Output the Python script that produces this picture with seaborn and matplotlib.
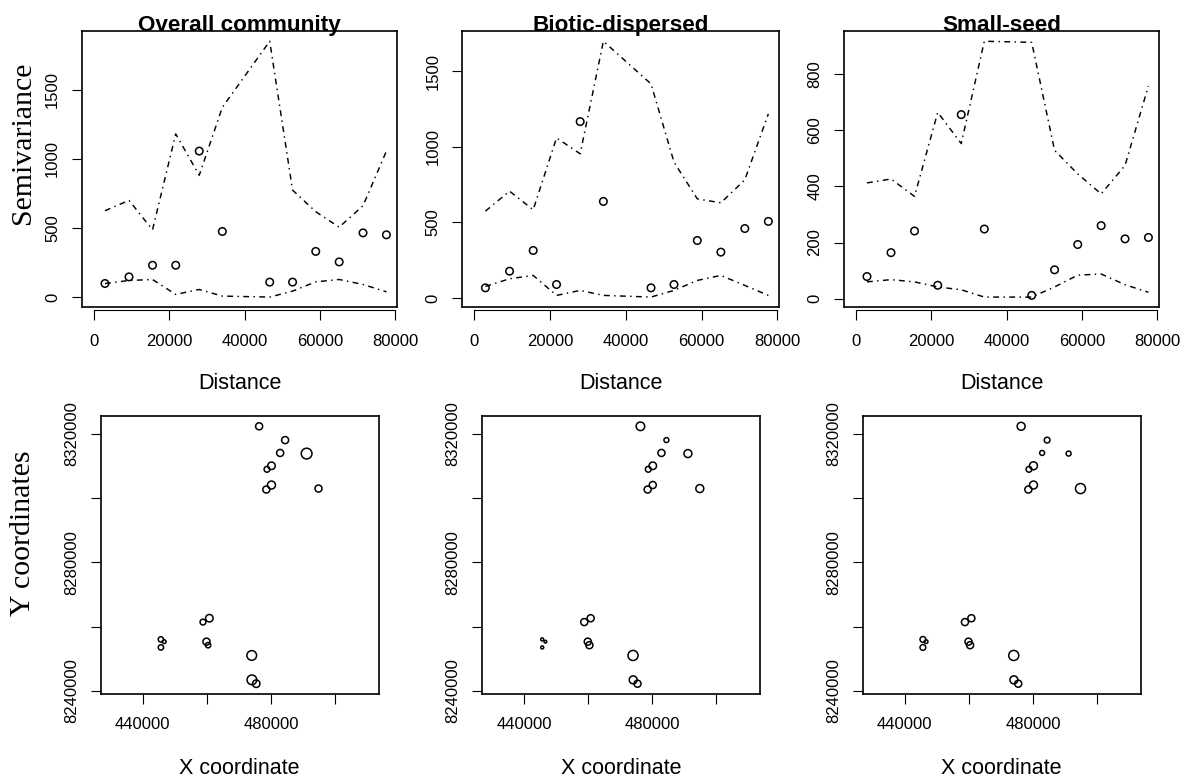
import numpy as np
import pandas as pd
import matplotlib
matplotlib.use("Agg")
import matplotlib.pyplot as plt
from matplotlib.lines import Line2D
import seaborn as sns

sns.set_theme(style="ticks", rc={
    "axes.edgecolor": "black",
    "axes.linewidth": 1.2,
    "xtick.color": "black",
    "ytick.color": "black",
    "text.color": "black",
    "axes.labelcolor": "black",
    "xtick.major.size": 7.2,
    "ytick.major.size": 7.2,
    "xtick.major.width": 0.8,
    "ytick.major.width": 0.8,
})
plt.rcParams["font.family"] = ["Liberation Sans", "DejaVu Sans"]

# ---- empirical semivariograms with Monte-Carlo envelopes ----
distance = [2900, 9280, 15520, 21680, 27920, 34050, 46630, 52700, 58850, 65070, 71400, 77610]

overall_gamma = [98, 146, 230, 230, 1055, 474, 108, 108, 330, 254, 464, 450]
overall_upper = [624, 699, 486, 1179, 880, 1371, 1849, 773, 617, 505, 660, 1055]
overall_lower = [98, 120, 127, 19, 55, 7, 0, 43, 110, 127, 91, 38]

biotic_gamma = [68, 178, 315, 90, 1167, 639, 68, 90, 381, 304, 460, 507]
biotic_upper = [575, 707, 584, 1059, 954, 1698, 1416, 899, 656, 630, 782, 1218]
biotic_lower = [77, 128, 150, 18, 51, 18, 7, 51, 117, 150, 84, 18]

small_gamma = [79, 164, 241, 48, 655, 248, 12, 103, 193, 260, 213, 218]
small_upper = [412, 426, 364, 663, 552, 916, 912, 528, 444, 373, 474, 757]
small_lower = [60, 68, 60, 42, 32, 6, 6, 42, 84, 88, 50, 23]

titles = ["Overall community", "Biotic-dispersed", "Small-seed"]
dist_ticks = [0, 20000, 40000, 60000, 80000]
gamma_ticks = [[0, 500, 1000, 1500], [0, 500, 1000, 1500], [0, 200, 400, 600, 800]]

# ---- sampling sites and bubble magnitudes (cex) ----
site_x = [476300, 484400, 482850, 491100, 480150, 478750, 480150, 478550, 494800,
          460800, 458800, 445700, 445700, 446700, 459900, 460400, 474000, 474050, 475400]
site_y = [8322400, 8318100, 8314100, 8313900, 8310100, 8309000, 8304100, 8302700, 8303000,
          8262600, 8261400, 8256000, 8253500, 8255300, 8255300, 8254200, 8251000, 8243400, 8242200]

overall_cex = [0.94, 0.94, 0.94, 1.43, 1.0, 0.77, 1.06, 0.94, 0.94,
               1.0, 0.77, 0.71, 0.71, 0.51, 0.94, 0.71, 1.29, 1.29, 1.0]
biotic_cex = [1.14, 0.66, 0.94, 1.06, 1.0, 0.77, 0.94, 0.94, 1.06,
              0.94, 0.94, 0.40, 0.40, 0.36, 0.94, 0.94, 1.34, 1.06, 0.94]
small_cex = [1.06, 0.77, 0.66, 0.66, 1.06, 0.77, 1.06, 0.94, 1.34,
             0.94, 0.94, 0.77, 0.77, 0.49, 0.94, 0.94, 1.34, 1.06, 0.94]

coord_xticks = [440000, 460000, 480000, 500000]
coord_xlabels = ["440000", "", "480000", ""]
coord_yticks = [8240000, 8260000, 8280000, 8300000, 8320000]
coord_ylabels = ["8240000", "", "8280000", "", "8320000"]

W, H = 1191, 782
fig = plt.figure(figsize=(W / 100, H / 100), dpi=100)


def px_axes(left, top, right, bottom):
    return fig.add_axes([left / W, 1 - bottom / H, (right - left) / W, (bottom - top) / H])


top_boxes = [(82, 31, 397.3, 307.3), (462.3, 31, 779.3, 307.3), (844, 31, 1159.3, 307.3)]
bottom_boxes = [(100.7, 416, 378.7, 694), (482, 416, 760, 694), (862.7, 416, 1140.7, 694)]

DOTDASH = (0, (4, 3, 1, 3))
TICK_FS = 12
LABEL_FS = 15.5
SERIF_FS = 21.5
MARK_PT = 5.4  # marker diameter (points) at cex = 1
EDGE_LW = 1.1

variograms = [
    (overall_gamma, overall_upper, overall_lower),
    (biotic_gamma, biotic_upper, biotic_lower),
    (small_gamma, small_upper, small_lower),
]

for i, (box, title, (gam, up, lo), yt) in enumerate(zip(top_boxes, titles, variograms, gamma_ticks)):
    ax = px_axes(*box)
    df = pd.DataFrame({"distance": distance, "gamma": gam, "upper": up, "lower": lo})
    for col in ("upper", "lower"):
        sns.lineplot(data=df, x="distance", y=col, ax=ax, color="black", lw=1.05,
                     linestyle=DOTDASH, errorbar=None)
    sns.scatterplot(data=df, x="distance", y="gamma", ax=ax, marker="o", s=MARK_PT ** 2,
                    color="black", facecolor="none", edgecolor="black", linewidth=EDGE_LW)

    vals = np.concatenate([gam, up, lo])
    span = vals.max() - vals.min()
    ax.set_ylim(vals.min() - 0.04 * span, vals.max() + 0.04 * span)
    ax.set_xlim(-3200, 80500)
    ax.set_xticks(dist_ticks)
    ax.set_xticklabels([str(t) for t in dist_ticks])
    ax.set_yticks(yt)
    ax.set_yticklabels([str(t) for t in yt])
    ax.set_xlabel("")
    ax.set_ylabel("")

    # detached x axis line below the plot box
    ax.spines["bottom"].set_position(("outward", 2.2))
    ax.spines["bottom"].set_bounds(0, 80000)
    ax.spines["bottom"].set_linewidth(0.8)
    ax.add_line(Line2D([0, 1], [0, 0], transform=ax.transAxes, color="black", lw=1.2,
                       clip_on=False))

    ax.tick_params(axis="x", labelsize=TICK_FS, pad=9.5)
    ax.tick_params(axis="y", labelsize=TICK_FS, pad=8.5, labelrotation=90)
    for lab in ax.get_yticklabels():
        lab.set_va("center")

    ax.text(0.5, 1.0, title, transform=ax.transAxes, ha="center", va="baseline",
            fontsize=16.2, fontweight="bold")
    cx = (box[0] + box[2]) / 2
    fig.text(cx / W, 1 - 383 / H, "Distance", ha="center", va="center", fontsize=LABEL_FS)

bubbles = [overall_cex, biotic_cex, small_cex]
sx = np.array(site_x, dtype=float)
sy = np.array(site_y, dtype=float)
yspan = sy.max() - sy.min()
ylim = (sy.min() - 0.04 * yspan, sy.max() + 0.04 * yspan)
half = (ylim[1] - ylim[0]) / 2
xc = (sx.min() + sx.max()) / 2
xlim = (xc - half, xc + half)

for box, cex in zip(bottom_boxes, bubbles):
    ax = px_axes(*box)
    area = (np.array(cex) * MARK_PT) ** 2
    df = pd.DataFrame({"x": sx, "y": sy, "area": area})
    lo_a, hi_a = float(area.min()), float(area.max())
    sns.scatterplot(data=df, x="x", y="y", size="area", sizes=(lo_a, hi_a),
                    size_norm=(lo_a, hi_a), legend=False, ax=ax, marker="o",
                    color="black", facecolor="none", edgecolor="black", linewidth=EDGE_LW)
    ax.set_xlim(*xlim)
    ax.set_ylim(*ylim)
    ax.set_xticks(coord_xticks)
    ax.set_xticklabels(coord_xlabels)
    ax.set_yticks(coord_yticks)
    ax.set_yticklabels(coord_ylabels)
    ax.set_xlabel("")
    ax.set_ylabel("")
    ax.tick_params(axis="x", labelsize=TICK_FS, pad=9.5)
    ax.tick_params(axis="y", labelsize=TICK_FS, pad=8.5, labelrotation=90)
    for lab in ax.get_yticklabels():
        lab.set_va("center")
    cx = (box[0] + box[2]) / 2
    fig.text(cx / W, 1 - 768 / H, "X coordinate", ha="center", va="center", fontsize=LABEL_FS)

fig.text(23 / W, 1 - 143 / H, "Semivariance", rotation=90, ha="center", va="center",
         fontsize=SERIF_FS, family=["Liberation Serif", "DejaVu Serif"])
fig.text(23 / W, 1 - 533.5 / H, "Y coordinates", rotation=90, ha="center", va="center",
         fontsize=SERIF_FS, family=["Liberation Serif", "DejaVu Serif"])

fig.savefig("out.png", dpi=100)
